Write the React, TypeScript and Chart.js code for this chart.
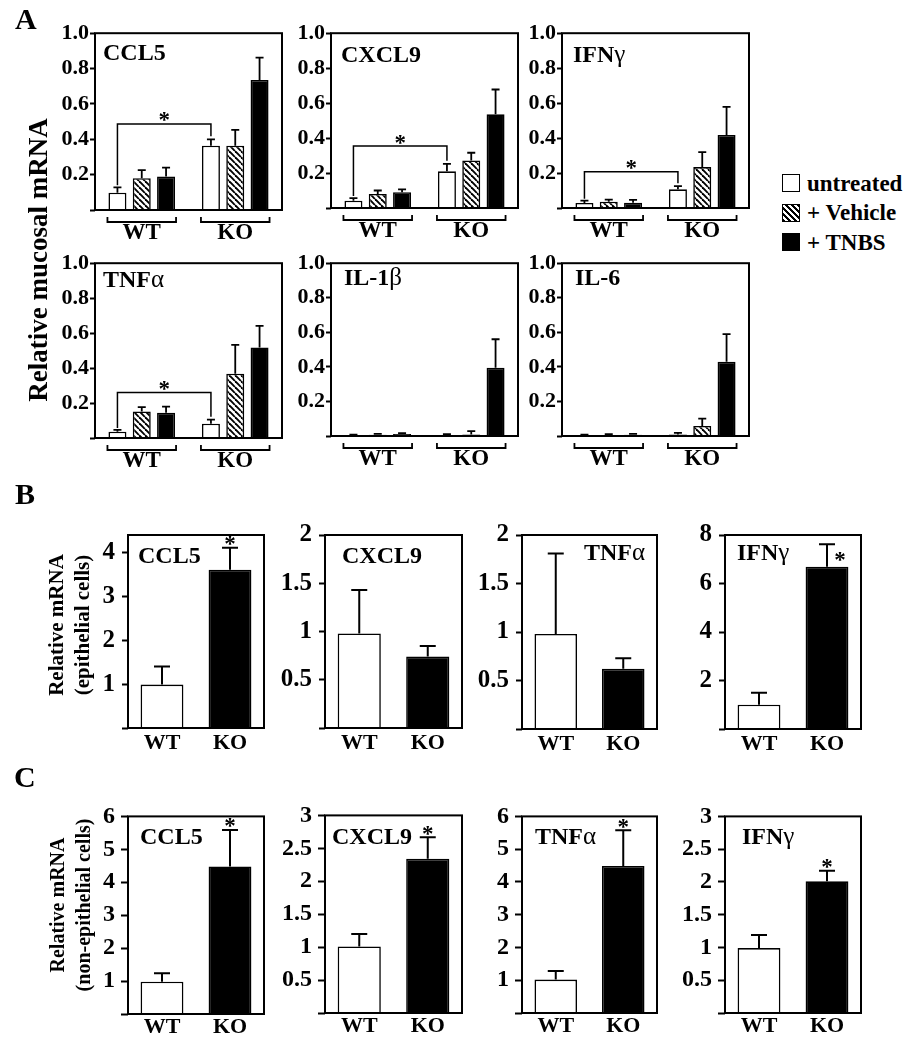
import React, { useEffect, useRef } from 'react';
import { Chart, registerables } from 'chart.js';

Chart.register(...registerables);

const FONT = '"Liberation Serif", "Times New Roman", Times, serif';

// ---------------- data ----------------
const groupLabels = ['WT', 'KO'];
const treatmentLabels = ['untreated', '+ Vehicle', '+ TNBS'];

// Panel A – relative mucosal mRNA; rows = treatment (untreated, vehicle, TNBS), cols = [WT, KO]
const aTicks = [0, 0.2, 0.4, 0.6, 0.8, 1.0];
const aTitles = ['CCL5', 'CXCL9', 'IFNγ', 'TNFα', 'IL-1β', 'IL-6'];
const aCCL5Mean = [[0.098, 0.364], [0.18, 0.364], [0.189, 0.736]];
const aCCL5Sem = [[0.03, 0.036], [0.046, 0.089], [0.051, 0.126]];
const aCXCL9Mean = [[0.042, 0.21], [0.08, 0.272], [0.09, 0.536]];
const aCXCL9Sem = [[0.015, 0.043], [0.02, 0.044], [0.017, 0.142]];
const aIFNgMean = [[0.029, 0.107], [0.036, 0.234], [0.03, 0.418]];
const aIFNgSem = [[0.013, 0.018], [0.012, 0.086], [0.016, 0.16]];
const aTNFaMean = [[0.036, 0.082], [0.152, 0.368], [0.145, 0.518]];
const aTNFaSem = [[0.01, 0.023], [0.025, 0.165], [0.035, 0.124]];
const aIL1bMean = [[0.004, 0.006], [0.007, 0.008], [0.011, 0.395]];
const aIL1bSem = [[0.004, 0.004], [0.005, 0.02], [0.006, 0.165]];
const aIL6Mean = [[0.004, 0.008], [0.006, 0.058], [0.007, 0.43]];
const aIL6Sem = [[0.004, 0.01], [0.005, 0.042], [0.005, 0.16]];
const aSigLevel = [0.487, 0.354, 0.207, 0.26, null, null];

// Panel B – epithelial cells, [WT, KO]
const bTitles = ['CCL5', 'CXCL9', 'TNFα', 'IFNγ'];
const bMax = [4.4, 2, 2, 8];
const bTicks = [[0, 1, 2, 3, 4], [0, 0.5, 1, 1.5, 2], [0, 0.5, 1, 1.5, 2], [0, 2, 4, 6, 8]];
const bMean = [[0.99, 3.61], [0.98, 0.74], [0.98, 0.62], [1.0, 6.69]];
const bSem = [[0.41, 0.5], [0.45, 0.11], [0.83, 0.11], [0.5, 0.93]];
const bSig = [true, false, false, true];

// Panel C – non-epithelial cells, [WT, KO]
const cTitles = ['CCL5', 'CXCL9', 'TNFα', 'IFNγ'];
const cMax = [6, 3, 6, 3];
const cTicks = [[0, 1, 2, 3, 4, 5, 6], [0, 0.5, 1, 1.5, 2, 2.5, 3], [0, 1, 2, 3, 4, 5, 6], [0, 0.5, 1, 1.5, 2, 2.5, 3]];
const cMean = [[0.98, 4.48], [1.01, 2.34], [1.02, 4.49], [0.99, 2.01]];
const cSem = [[0.26, 1.11], [0.19, 0.33], [0.26, 1.09], [0.2, 0.16]];
const cSig = [true, true, true, true];

// ---------------- layout ----------------
type Box = { l: number; t: number; r: number; b: number };
type Spec = {
  key: string; box: Box; yW: number; padTop: number; padR: number; xH: number;
  means: number[][]; sems: number[][]; fills: string[][];
  yMax: number; yTicks: number[]; fixed: boolean;
  tickSize: number; tickLen: number; tickPad: number; xSize: number; xPad: number;
  catPct: number; barPct: number;
  title: string; titleAlign: 'left' | 'right'; titleDx: number; titleDy: number; titleSize: number;
  capHalf: number; errW: number; groupBrackets: boolean; sigLevel: number | null;
  star: 'above' | 'right' | null; starSize: number;
};

const aBoxes: Box[] = [
  { l: 95, t: 33, r: 282, b: 210 }, { l: 331, t: 33, r: 518, b: 208 }, { l: 562, t: 33, r: 749, b: 208 },
  { l: 95, t: 263, r: 282, b: 438 }, { l: 331, t: 263, r: 518, b: 436 }, { l: 562, t: 263, r: 749, b: 436 },
];
const aTitlePos = [[8, 27], [10, 29], [11, 29], [8, 24], [13, 22], [13, 22]];
const bBoxes: Box[] = [
  { l: 128, t: 527, r: 264, b: 728 }, { l: 325, t: 527, r: 462, b: 728 },
  { l: 522, t: 527, r: 657, b: 729 }, { l: 725, t: 527, r: 861, b: 729 },
];
const bTitlePos: [string, number, number][] = [['left', 10, 28], ['left', 17, 28], ['right', 12, 25], ['left', 12, 25]];
const cBoxes: Box[] = [
  { l: 128, t: 810, r: 264, b: 1014 }, { l: 325, t: 809, r: 462, b: 1013 },
  { l: 522, t: 810, r: 657, b: 1013 }, { l: 725, t: 810, r: 861, b: 1013 },
];
const cTitlePos = [[12, 28], [7, 29], [13, 28], [17, 28]];

const aMeans = [aCCL5Mean, aCXCL9Mean, aIFNgMean, aTNFaMean, aIL1bMean, aIL6Mean];
const aSems = [aCCL5Sem, aCXCL9Sem, aIFNgSem, aTNFaSem, aIL1bSem, aIL6Sem];

const specsA: Spec[] = aTitles.map((title, i) => ({
  key: 'a' + i, box: aBoxes[i], yW: 70, padTop: 14, padR: 8, xH: 42,
  means: aMeans[i], sems: aSems[i], fills: [['white', 'white'], ['hatch', 'hatch'], ['black', 'black']],
  yMax: 1, yTicks: aTicks, fixed: true,
  tickSize: 22, tickLen: 5, tickPad: 1, xSize: 23, xPad: 9,
  catPct: 0.78, barPct: 0.74,
  title, titleAlign: 'left', titleDx: aTitlePos[i][0], titleDy: aTitlePos[i][1], titleSize: 24,
  capHalf: 4, errW: 1.8, groupBrackets: true, sigLevel: aSigLevel[i], star: null, starSize: 23,
}));

const specsB: Spec[] = bTitles.map((title, i) => ({
  key: 'b' + i, box: bBoxes[i], yW: 62, padTop: 14, padR: 8, xH: 34,
  means: [bMean[i]], sems: [bSem[i]], fills: [['white', 'black']],
  yMax: bMax[i], yTicks: bTicks[i], fixed: false,
  tickSize: 25, tickLen: 6, tickPad: 7, xSize: 22, xPad: 2,
  catPct: 1, barPct: 0.63,
  title, titleAlign: bTitlePos[i][0] as 'left' | 'right', titleDx: bTitlePos[i][1], titleDy: bTitlePos[i][2], titleSize: 24,
  capHalf: 8, errW: 2, groupBrackets: false, sigLevel: null,
  star: bSig[i] ? (i === 3 ? 'right' : 'above') : null, starSize: 23,
}));

const specsC: Spec[] = cTitles.map((title, i) => ({
  key: 'c' + i, box: cBoxes[i], yW: 62, padTop: 14, padR: 8, xH: 34,
  means: [cMean[i]], sems: [cSem[i]], fills: [['white', 'black']],
  yMax: cMax[i], yTicks: cTicks[i], fixed: false,
  tickSize: 24, tickLen: 7, tickPad: 6, xSize: 22, xPad: 0,
  catPct: 1, barPct: 0.63,
  title, titleAlign: 'left', titleDx: cTitlePos[i][0], titleDy: cTitlePos[i][1], titleSize: 24,
  capHalf: 8, errW: 2, groupBrackets: false, sigLevel: null,
  star: cSig[i] ? 'above' : null, starSize: 23,
}));

const allSpecs = [...specsA, ...specsB, ...specsC];

// ---------------- drawing helpers ----------------
let hatchCache: CanvasPattern | null = null;
function hatch(): CanvasPattern | string {
  if (hatchCache) return hatchCache;
  const c = document.createElement('canvas');
  c.width = 6; c.height = 6;
  const g = c.getContext('2d');
  if (!g) return '#888';
  g.fillStyle = '#fff';
  g.fillRect(0, 0, 6, 6);
  g.strokeStyle = '#000';
  g.lineWidth = 1.9;
  for (const k of [-6, 0, 6]) {
    g.beginPath(); g.moveTo(k, 0); g.lineTo(k + 6, 6); g.stroke();
  }
  hatchCache = g.createPattern(c, 'repeat');
  return hatchCache || '#888';
}
function fillOf(kind: string) {
  if (kind === 'hatch') return hatch();
  return kind === 'black' ? '#000' : '#fff';
}

function drawStar(ctx: CanvasRenderingContext2D, cx: number, cy: number, size: number) {
  ctx.font = `bold ${size}px ${FONT}`;
  ctx.textAlign = 'center';
  ctx.textBaseline = 'alphabetic';
  const m = ctx.measureText('*');
  const y = cy + (m.actualBoundingBoxAscent - m.actualBoundingBoxDescent) / 2;
  ctx.fillText('*', cx, y);
}

function drawTitle(ctx: CanvasRenderingContext2D, text: string, x: number, baseline: number, size: number, align: string) {
  const runs: { t: string; greek: boolean; w: number }[] = [];
  for (const ch of Array.from(text)) {
    const greek = /[\u0370-\u03ff]/.test(ch);
    const last = runs[runs.length - 1];
    if (last && last.greek === greek) last.t += ch; else runs.push({ t: ch, greek, w: 0 });
  }
  const fontOf = (r: { greek: boolean }) => `${r.greek ? 'normal' : 'bold'} ${r.greek ? size + 1 : size}px ${FONT}`;
  let total = 0;
  runs.forEach((r) => { ctx.font = fontOf(r); r.w = ctx.measureText(r.t).width; total += r.w; });
  let cx = align === 'left' ? x : x - total;
  ctx.textAlign = 'left';
  ctx.textBaseline = 'alphabetic';
  runs.forEach((r) => { ctx.font = fontOf(r); ctx.fillText(r.t, cx, baseline); cx += r.w; });
}

function makeDecor(spec: Spec) {
  return {
    id: 'decor_' + spec.key,
    afterDatasetsDraw(chart: any) {
      const ctx: CanvasRenderingContext2D = chart.ctx;
      const ys = chart.scales.y;
      const ca = chart.chartArea;
      ctx.save();
      ctx.strokeStyle = '#000';
      ctx.fillStyle = '#000';
      // error bars
      ctx.lineWidth = spec.errW;
      spec.means.forEach((row, di) => {
        const meta = chart.getDatasetMeta(di);
        row.forEach((m, j) => {
          const el = meta.data[j];
          const top = ys.getPixelForValue(m + spec.sems[di][j]);
          ctx.beginPath();
          ctx.moveTo(el.x, el.y);
          ctx.lineTo(el.x, top);
          ctx.moveTo(el.x - spec.capHalf, top);
          ctx.lineTo(el.x + spec.capHalf, top);
          ctx.stroke();
        });
      });
      // frame
      ctx.lineWidth = 2;
      ctx.strokeRect(ca.left, ca.top, ca.right - ca.left, ca.bottom - ca.top);
      // title
      drawTitle(ctx, spec.title, spec.titleAlign === 'left' ? ca.left + spec.titleDx : ca.right - spec.titleDx,
        ca.top + spec.titleDy, spec.titleSize, spec.titleAlign);
      // group brackets under the axis
      if (spec.groupBrackets) {
        const first = chart.getDatasetMeta(0);
        const last = chart.getDatasetMeta(spec.means.length - 1);
        ctx.lineWidth = 1.8;
        for (let j = 0; j < groupLabels.length; j++) {
          const a = first.data[j];
          const b = last.data[j];
          const x1 = a.x - a.width / 2 - 1;
          const x2 = b.x + b.width / 2 + 1;
          const yb = ca.bottom + 12;
          ctx.beginPath();
          ctx.moveTo(x1, yb - 5); ctx.lineTo(x1, yb); ctx.lineTo(x2, yb); ctx.lineTo(x2, yb - 5);
          ctx.stroke();
        }
      }
      // significance bracket
      if (spec.sigLevel != null) {
        const meta = chart.getDatasetMeta(0);
        const a = meta.data[0];
        const b = meta.data[1];
        const yl = ys.getPixelForValue(spec.sigLevel);
        const y1 = ys.getPixelForValue(spec.means[0][0] + spec.sems[0][0]) - 2;
        const y2 = ys.getPixelForValue(spec.means[0][1] + spec.sems[0][1]) - 3;
        ctx.lineWidth = 1.5;
        ctx.beginPath();
        ctx.moveTo(a.x, y1); ctx.lineTo(a.x, yl); ctx.lineTo(b.x, yl); ctx.lineTo(b.x, y2);
        ctx.stroke();
        drawStar(ctx, (a.x + b.x) / 2, yl - 7, spec.starSize);
      }
      if (spec.star) {
        const el = chart.getDatasetMeta(0).data[1];
        const top = ys.getPixelForValue(spec.means[0][1] + spec.sems[0][1]);
        if (spec.star === 'above') drawStar(ctx, el.x, top - 7, spec.starSize);
        else drawStar(ctx, el.x + 13, top + 12, spec.starSize);
      }
      ctx.restore();
    },
  };
}

function buildConfig(spec: Spec): any {
  return {
    type: 'bar',
    data: {
      labels: groupLabels,
      datasets: spec.means.map((m, i) => ({
        label: spec.means.length > 1 ? treatmentLabels[i] : 'mean',
        data: m,
        backgroundColor: spec.fills[i].map(fillOf),
        borderColor: '#000',
        borderWidth: 1.6,
        categoryPercentage: spec.catPct,
        barPercentage: spec.barPct,
      })),
    },
    options: {
      responsive: false,
      animation: false,
      devicePixelRatio: 1,
      layout: { padding: { top: spec.padTop, right: spec.padR, left: 0, bottom: 0 } },
      plugins: { legend: { display: false }, tooltip: { enabled: false }, title: { display: false } },
      scales: {
        x: {
          grid: { display: false, drawTicks: false },
          border: { display: false },
          ticks: { color: '#000', padding: spec.xPad, font: { family: FONT, size: spec.xSize, weight: 'bold' } },
          afterFit: (s: any) => { s.height = spec.xH; },
        },
        y: {
          min: 0,
          max: spec.yMax,
          grid: { display: true, drawOnChartArea: false, drawTicks: true, tickLength: spec.tickLen, tickWidth: 2, tickColor: '#000' },
          border: { display: false },
          ticks: {
            color: '#000',
            padding: spec.tickPad,
            font: { family: FONT, size: spec.tickSize, weight: 'bold' },
            callback: (v: any) => (Number(v) === 0 ? '' : spec.fixed ? Number(v).toFixed(1) : String(v)),
          },
          afterBuildTicks: (s: any) => { s.ticks = spec.yTicks.map((v) => ({ value: v })); },
          afterFit: (s: any) => { s.width = spec.yW; },
        },
      },
    },
    plugins: [makeDecor(spec)],
  };
}

function BarPanel({ spec }: { spec: Spec }) {
  const ref = useRef<HTMLCanvasElement>(null);
  useEffect(() => {
    if (!ref.current) return;
    const chart = new Chart(ref.current, buildConfig(spec));
    return () => chart.destroy();
  }, [spec]);
  const w = spec.box.r - spec.box.l + spec.yW + spec.padR;
  const h = spec.box.b - spec.box.t + spec.padTop + spec.xH;
  return (
    <canvas
      ref={ref}
      width={w}
      height={h}
      style={{ position: 'absolute', left: spec.box.l - spec.yW, top: spec.box.t - spec.padTop, width: w, height: h }}
    />
  );
}

const txt: React.CSSProperties = {
  position: 'absolute', fontFamily: FONT, fontWeight: 'bold', color: '#000', lineHeight: 1, whiteSpace: 'nowrap',
};
const rot: React.CSSProperties = { transform: 'translate(-50%, -50%) rotate(-90deg)', textAlign: 'center' };

const legendFills = [
  '#fff',
  'repeating-linear-gradient(45deg, #000 0px, #000 1.6px, #fff 1.6px, #fff 4.2px)',
  '#000',
];

export default function App() {
  return (
    <div style={{ position: 'absolute', left: 0, top: 0, width: 914, height: 1050, background: '#fff', overflow: 'hidden' }}>
      {allSpecs.map((s) => <BarPanel key={s.key} spec={s} />)}
      <div style={{ ...txt, left: 15, top: 4, fontSize: 30 }}>A</div>
      <div style={{ ...txt, left: 15, top: 479, fontSize: 30 }}>B</div>
      <div style={{ ...txt, left: 14, top: 762, fontSize: 30 }}>C</div>
      <div style={{ ...txt, ...rot, left: 38, top: 260, fontSize: 27 }}>Relative mucosal mRNA</div>
      <div style={{ ...txt, ...rot, left: 69, top: 625, fontSize: 21, lineHeight: '26px' }}>
        Relative mRNA<br />(epithelial cells)
      </div>
      <div style={{ ...txt, ...rot, left: 70, top: 905, fontSize: 20, lineHeight: '26px' }}>
        Relative mRNA<br />(non-epithelial cells)
      </div>
      {treatmentLabels.map((t, i) => (
        <div key={t} style={{ position: 'absolute', left: 782, top: 174 + i * 29.5, height: 18, display: 'flex', alignItems: 'center' }}>
          <div style={{ width: 18, height: 18, boxSizing: 'border-box', border: '1.5px solid #000', background: legendFills[i] }} />
          <span style={{ ...txt, position: 'static', marginLeft: 7, fontSize: 23 }}>{t}</span>
        </div>
      ))}
    </div>
  );
}
